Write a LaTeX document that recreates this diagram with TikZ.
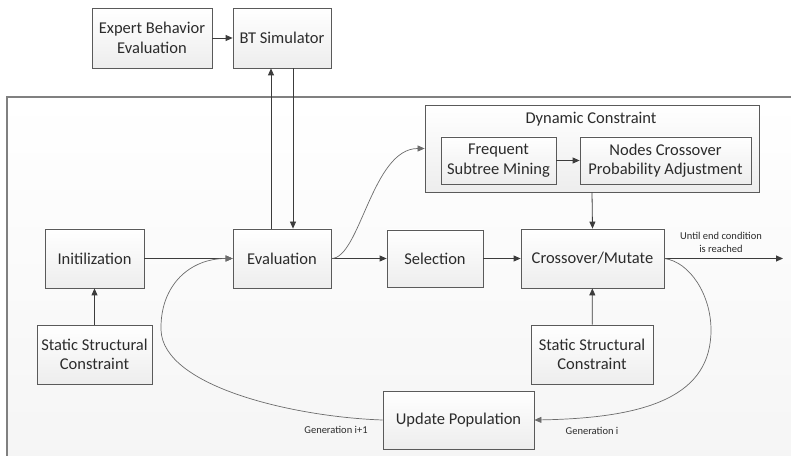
\documentclass[tikz,border=0pt]{standalone}
\usepackage{fontspec}
\setmainfont{Carlito}
\usetikzlibrary{arrows.meta,shadows}
\definecolor{txt}{HTML}{2B2B2B}
\definecolor{bord}{HTML}{5A5A5A}
\definecolor{arrc}{HTML}{3C3C3C}
\definecolor{framec}{HTML}{808080}
\begin{document}
\begin{tikzpicture}[x=1pt,y=1pt,
  box/.style={draw=bord, line width=0.8pt, top color=white, bottom color=gray!14,
    text=txt, align=center, inner sep=2pt, font=\fontsize{16.5}{19.5}\selectfont,
    drop shadow={shadow xshift=1.3pt, shadow yshift=-1.3pt, opacity=0.25, fill=gray}},
  arr/.style={draw=arrc, line width=0.8pt, -{Triangle[length=7pt,width=6pt]}},
  cur/.style={draw=gray!85!black, line width=0.7pt, -{Triangle[length=7pt,width=6pt]}},
  small/.style={text=txt, font=\fontsize{10.5}{12.5}\selectfont, align=center, inner sep=0pt}]
\useasboundingbox (0,0) rectangle (791,455);
\clip (0,0) rectangle (791,455);
\fill[white] (0,0) rectangle (791,455);
% big frame
\draw[draw=framec, line width=1.6pt, top color=white, bottom color=gray!8] (7,-20) rectangle (815,358);
% top boxes
\node[box, minimum width=120pt, minimum height=60pt] (expert) at (152,417) {Expert Behavior\\Evaluation};
\node[box, minimum width=98pt, minimum height=60pt] (bt) at (282,417) {BT Simulator};
% main row
\node[box, minimum width=99pt, minimum height=59pt] (init) at (94.5,196.5) {Initilization};
\node[box, minimum width=115pt, minimum height=59pt] (ssc1) at (94.5,100.5) {Static Structural\\Constraint};
\node[box, minimum width=98pt, minimum height=59pt] (eval) at (282,196.5) {Evaluation};
\node[box, minimum width=96pt, minimum height=57pt] (sel) at (435,196.5) {Selection};
\node[box, minimum width=143pt, minimum height=59pt] (cross) at (592.5,196.5) {Crossover/Mutate};
\node[box, minimum width=122pt, minimum height=59pt] (ssc2) at (592,100.5) {Static Structural\\Constraint};
\node[box, minimum width=151pt, minimum height=58pt] (up) at (458.5,35) {Update Population};
% dynamic constraint
\node[box, minimum width=334pt, minimum height=87pt] (dyn) at (592,306.5) {};
\node[text=txt, font=\fontsize{16.5}{19.5}\selectfont, inner sep=0pt] (dyntitle) at (591,336) {Dynamic Constraint};
\node[box, minimum width=115pt, minimum height=47pt] (fsm) at (498.5,294.5) {Frequent\\Subtree Mining};
\node[box, minimum width=171pt, minimum height=47pt] (ncpa) at (665.5,294.5) {Nodes Crossover\\Probability Adjustment};
\coordinate (out) at (783,196.5);
% connectors
\draw[arr] (expert) -- (bt);
\draw[arr] ([xshift=-11pt]eval.north) -- ([xshift=-11pt]bt.south);
\draw[arr] ([xshift=11pt]bt.south) -- ([xshift=11pt]eval.north);
\draw[arr] (init) -- (eval);
\draw[arr] (ssc1) -- (init);
\draw[arr] (eval) -- (sel);
\draw[arr] (sel) -- (cross);
\draw[arr] (dyn.south) -- (cross.north);
\draw[arr] (ssc2) -- (cross);
\draw[arr] (fsm) -- (ncpa);
\draw[arr] (cross.east) -- (out);
\draw[cur] (eval.east) .. controls (360,196.5) and (372,306.5) .. (dyn.west);
\draw[cur] (cross.east) .. controls (690,193) and (711,160) .. (711,125)
   .. controls (711,60) and (650,37) .. (up.east);
\draw[cur] (up.west) .. controls (295,38) and (163,68) .. (161,125)
   .. controls (160,170) and (190,196.5) .. (eval.west);
% labels
\node[small] (lend) at (721,212.5) {Until end condition\\is reached};
\node[small] (lgen1) at (336,25) {Generation i+1};
\node[small] (lgen) at (592,24) {Generation i};
\end{tikzpicture}
\end{document}
